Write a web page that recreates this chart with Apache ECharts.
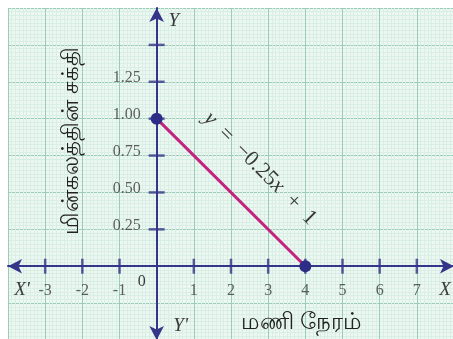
<!DOCTYPE html>
<html>
<head>
<meta charset="utf-8">
<script src="https://cdn.jsdelivr.net/npm/echarts@6/dist/echarts.min.js"></script>
<style>
  html, body { margin: 0; padding: 0; background: #fff; }
  #main { width: 453px; height: 339px; }
</style>
</head>
<body>
<div id="main"></div>
<script>
// values
var xTicks = [-3, -2, -1, 1, 2, 3, 4, 5, 6, 7];
var xTickLabels = ['-3', '-2', '-1', '1', '2', '3', '4', '5', '6', '7'];
var yTicks = [0.25, 0.5, 0.75, 1.0, 1.25, 1.5];
var yTickLabels = ['0.25', '0.50', '0.75', '1.00', '1.25', ''];
var lineX = [0, 4];
var lineY = [1, 0];
var xName = 'மணி நேரம்';
var yName = 'மின்கலத்தின் சக்தி';

var serif = '"Liberation Serif", "DejaVu Serif", serif';
var navy = '#35358a';
var ink = '#3a3a3a';

var dom = document.getElementById('main');
var myChart = echarts.init(dom);

var lineData = lineX.map(function (x, i) { return [x, lineY[i]]; });
var xTickData = xTicks.map(function (x) { return [x, 0]; });
var yTickData = yTicks.map(function (y) { return [0, y]; });

var option = {
    backgroundColor: '#ffffff',
    animation: false,
    grid: {
        left: 8, top: 8, width: 446, height: 332,
        containLabel: false, outerBoundsMode: 'none',
        show: true, backgroundColor: '#ecf7f1', borderWidth: 0
    },
    xAxis: {
        type: 'value', min: -4, max: 8, interval: 1,
        axisLine: { onZero: true, symbol: ['arrow', 'arrow'], symbolSize: [11, 14],
            lineStyle: { color: navy, width: 2 } },
        axisTick: { show: false },
        axisLabel: { show: false },
        splitLine: { show: true, lineStyle: { color: '#9bcdb6', width: 1 } },
        minorTick: { show: false, splitNumber: 10 },
        minorSplitLine: { show: true, lineStyle: { color: '#d9eee4', width: 1 } }
    },
    yAxis: {
        type: 'value', min: -0.5, max: 1.75, interval: 0.25,
        axisLine: { onZero: true, symbol: ['arrow', 'arrow'], symbolSize: [11, 14],
            lineStyle: { color: navy, width: 2 } },
        axisTick: { show: false },
        axisLabel: { show: false },
        splitLine: { show: true, lineStyle: { color: '#9bcdb6', width: 1 } },
        minorTick: { show: false, splitNumber: 10 },
        minorSplitLine: { show: true, lineStyle: { color: '#d9eee4', width: 1 } }
    },
    series: [
        {
            name: 'xticks', type: 'scatter', data: xTickData,
            symbol: 'rect', symbolSize: [2.5, 15], z: 3,
            itemStyle: { color: navy }, silent: true,
            label: {
                show: true, position: 'bottom', distance: 9,
                fontFamily: serif, fontSize: 16, color: ink,
                formatter: function (p) { return xTickLabels[p.dataIndex]; }
            }
        },
        {
            name: 'yticks', type: 'scatter', data: yTickData,
            symbol: 'rect', symbolSize: [16, 2.5], z: 3,
            itemStyle: { color: navy }, silent: true,
            label: {
                show: true, position: 'left', distance: 8, offset: [0, -4],
                fontFamily: serif, fontSize: 16, color: ink,
                formatter: function (p) { return yTickLabels[p.dataIndex]; }
            }
        },
        {
            name: 'battery', type: 'line', data: lineData, z: 4,
            lineStyle: { color: '#c3227f', width: 3 },
            symbol: 'circle', symbolSize: 12, showSymbol: true,
            itemStyle: { color: '#2d2d88' }
        }
    ]
};

if (option && typeof option === "object") {
    myChart.setOption(option, true);
}

// texts placed from data coordinates
function px(x, y) { return myChart.convertToPixel({ gridIndex: 0 }, [x, y]); }

var o = px(0, 0);
var eq = px(2.78, 0.662);
var xn = px(3.9, -0.38);
var yn = px(-2.3, 0.85);
var xl = px(-4, 0);
var xr = px(8, 0);
var yt = px(0, 1.75);
var yb = px(0, -0.5);

myChart.setOption({
    graphic: [
        { type: 'text', x: o[0] - 15, y: o[1] + 16, style: { text: '0', font: '16px ' + serif, fill: ink, align: 'center', verticalAlign: 'middle' } },
        { type: 'text', x: xl[0] + 14, y: xl[1] + 24, style: { text: "X'", font: 'italic 19px ' + serif, fill: ink, align: 'center', verticalAlign: 'middle' } },
        { type: 'text', x: xr[0] - 9, y: xr[1] + 24, style: { text: 'X', font: 'italic 19px ' + serif, fill: ink, align: 'center', verticalAlign: 'middle' } },
        { type: 'text', x: yt[0] + 17, y: yt[1] + 13, style: { text: 'Y', font: 'italic 19px ' + serif, fill: ink, align: 'center', verticalAlign: 'middle' } },
        { type: 'text', x: yb[0] + 24, y: yb[1] - 14, style: { text: "Y'", font: 'italic 19px ' + serif, fill: ink, align: 'center', verticalAlign: 'middle' } },
        { type: 'text', x: xn[0], y: xn[1], style: { text: xName, font: '500 23px "Noto Sans", sans-serif', fill: '#222', align: 'center', verticalAlign: 'middle' } },
        { type: 'text', x: yn[0], y: yn[1], rotation: Math.PI / 2, style: { text: yName, font: '500 23px "Noto Sans", sans-serif', fill: '#222', align: 'center', verticalAlign: 'middle' } },
        {
            type: 'text', x: eq[0], y: eq[1], rotation: -Math.PI / 4,
            style: {
                text: '{i|y}  =  −0.25{i|x}  +  1',
                font: '22px ' + serif, fill: ink, align: 'center', verticalAlign: 'middle',
                rich: { i: { font: 'italic 22px ' + serif, fill: ink } }
            }
        }
    ]
});
</script>
</body>
</html>
